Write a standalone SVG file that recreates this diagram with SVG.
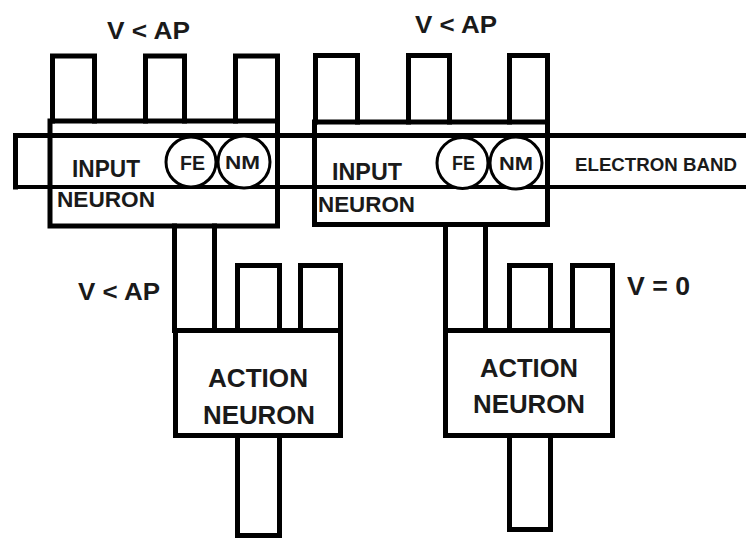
<svg xmlns="http://www.w3.org/2000/svg" width="746" height="540" viewBox="0 0 746 540">
<style>
.ln{fill:none;stroke:#000;stroke-width:5;stroke-linejoin:miter;stroke-linecap:square}
.thin{fill:none;stroke:#000;stroke-width:4}
.circ{fill:#fff;stroke:#000;stroke-width:3}
.t{font-family:"Liberation Sans",Arial,sans-serif;font-weight:bold;fill:#1a1a1a}
</style>
<rect width="746" height="540" fill="#fff"/>
<g id="electron-band">
<path class="ln" d="M760,135.5 H15.5 V187"/>
<path class="thin" d="M13.5,187 H760"/>
<text class="t" x="575" y="171" font-size="18" textLength="162" lengthAdjust="spacingAndGlyphs">ELECTRON BAND</text>
</g>
<g id="input-neuron-1">
<rect class="ln" x="50" y="121" width="227.5" height="105"/>
<path class="ln" d="M52.5,121 V56 H94.5 V121 M145.5,121 V56 H184.5 V121 M235.5,121 V56 H277.5 V121"/>
<circle class="circ" cx="191" cy="162" r="25"/>
<circle class="circ" cx="244" cy="162" r="26"/>
<text class="t" x="180" y="170" font-size="21" textLength="25" lengthAdjust="spacingAndGlyphs">FE</text>
<text class="t" x="225" y="169" font-size="19" textLength="35" lengthAdjust="spacingAndGlyphs">NM</text>
<text class="t" x="72" y="177" font-size="24" textLength="68" lengthAdjust="spacingAndGlyphs">INPUT</text>
<text class="t" x="57" y="207" font-size="22" textLength="98" lengthAdjust="spacingAndGlyphs">NEURON</text>
<text class="t" x="107" y="39" font-size="24" textLength="83" lengthAdjust="spacingAndGlyphs">V &lt; AP</text>
</g>
<g id="input-neuron-2">
<rect class="ln" x="314.5" y="122" width="233" height="102.5"/>
<path class="ln" d="M315.5,122 V55.5 H357.5 V122 M408.5,122 V55.5 H449.5 V122 M509.5,122 V55.5 H547.5 V122"/>
<circle class="circ" cx="462.5" cy="163" r="25.5"/>
<circle class="circ" cx="516" cy="163" r="26"/>
<text class="t" x="452" y="170" font-size="21" textLength="23" lengthAdjust="spacingAndGlyphs">FE</text>
<text class="t" x="499" y="170" font-size="19" textLength="34" lengthAdjust="spacingAndGlyphs">NM</text>
<text class="t" x="332" y="180" font-size="23" textLength="70" lengthAdjust="spacingAndGlyphs">INPUT</text>
<text class="t" x="318" y="212" font-size="22" textLength="97" lengthAdjust="spacingAndGlyphs">NEURON</text>
<text class="t" x="415" y="33" font-size="24" textLength="82" lengthAdjust="spacingAndGlyphs">V &lt; AP</text>
</g>
<g id="connectors">
<path class="ln" d="M174.5,226 V330.5 M214.5,226 V330.5"/>
<path class="ln" d="M445.5,224.5 V330.5 M485.5,224.5 V330.5"/>
<text class="t" x="78" y="300" font-size="24" textLength="82" lengthAdjust="spacingAndGlyphs">V &lt; AP</text>
</g>
<g id="action-neuron-1">
<rect class="ln" x="175.5" y="330.5" width="165" height="105"/>
<path class="ln" d="M237.5,330.5 V265.5 H279.5 V330.5 M300.5,330.5 V265.5 H340.5 V330.5"/>
<path class="ln" d="M237.5,435.5 V535.5 H279.5 V435.5"/>
<text class="t" x="208" y="387" font-size="25" textLength="100" lengthAdjust="spacingAndGlyphs">ACTION</text>
<text class="t" x="203" y="424" font-size="25" textLength="112" lengthAdjust="spacingAndGlyphs">NEURON</text>
</g>
<g id="action-neuron-2">
<rect class="ln" x="445.5" y="330.5" width="167" height="105"/>
<path class="ln" d="M509.5,330.5 V265.5 H550.5 V330.5 M572.5,330.5 V265.5 H612.5 V330.5"/>
<path class="ln" d="M509.5,435.5 V529.5 H550.5 V435.5"/>
<text class="t" x="480" y="377" font-size="25" textLength="98" lengthAdjust="spacingAndGlyphs">ACTION</text>
<text class="t" x="473" y="413" font-size="25" textLength="112" lengthAdjust="spacingAndGlyphs">NEURON</text>
<text class="t" x="627" y="295" font-size="25" textLength="63" lengthAdjust="spacingAndGlyphs">V = 0</text>
</g>
</svg>
